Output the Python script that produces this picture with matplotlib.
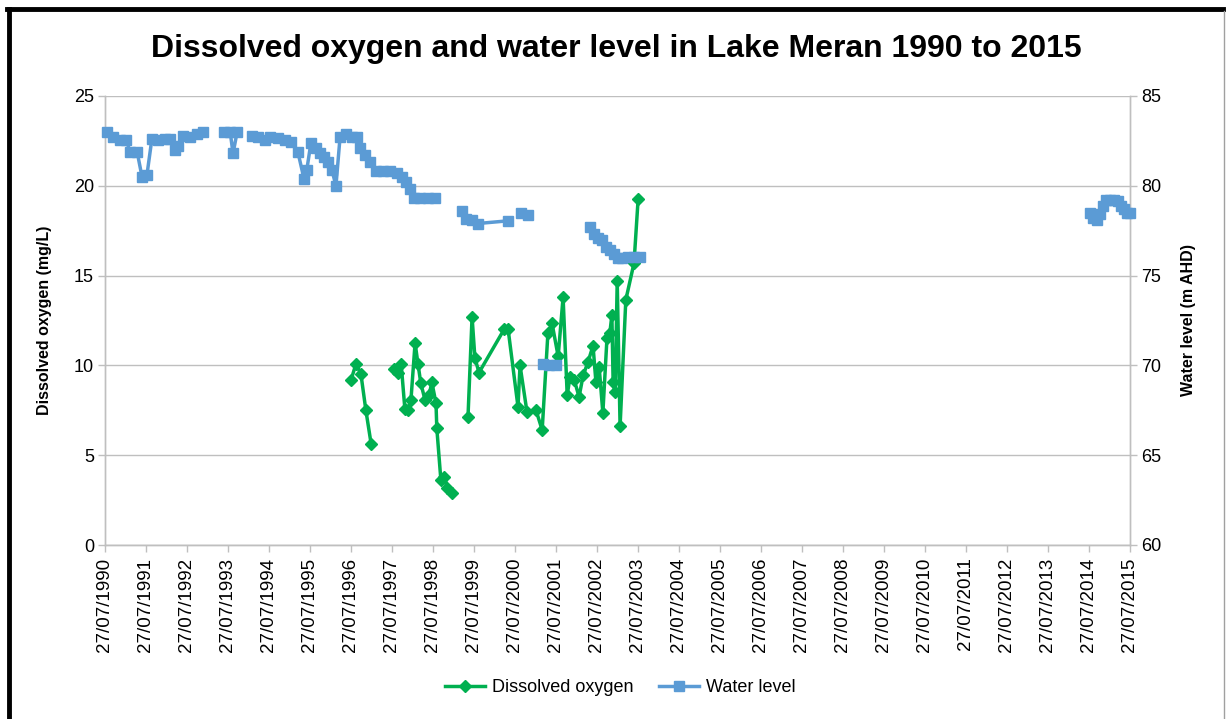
"""Dissolved oxygen and water level in Lake Meran, 1990-2015."""

import matplotlib
matplotlib.use("Agg")
import matplotlib.pyplot as plt
from matplotlib.lines import Line2D
import numpy as np

NAN = float("nan")

# decimal years; NaN entries break the line (missing records)
wl_years = [
    1990.62, 1990.76, 1990.93, 1991.08, 1991.18, 1991.35, 1991.47, 1991.59,
    1991.71, 1991.86, 1992.03, 1992.15, 1992.27, 1992.35, 1992.47, 1992.64,
    1992.81, 1992.96, NAN,
    1993.47, 1993.62, 1993.69, 1993.79, NAN,
    1994.15, 1994.30, 1994.47, 1994.59, 1994.79, 1994.96, 1995.10, 1995.27,
    1995.42, 1995.49, 1995.59, 1995.71, 1995.81, 1995.91, 1996.01, 1996.10,
    1996.20, 1996.30, 1996.45, 1996.59, 1996.71, 1996.79, 1996.91, 1997.03,
    1997.18, 1997.35, 1997.52, 1997.69, 1997.81, 1997.91, 1998.01, 1998.10,
    1998.25, 1998.45, 1998.62, NAN,
    1999.27, 1999.37, 1999.52, 1999.66, 2000.40, NAN,
    2000.71, 2000.88, NAN,
    2001.25, 2001.40, 2001.57, NAN,
    2002.40, 2002.49, 2002.59, 2002.69, 2002.79, 2002.88, 2002.98, 2003.08,
    2003.18, 2003.32, 2003.47, 2003.62, NAN,
    2014.59, 2014.66, 2014.76, 2014.83, 2014.91, 2014.98, 2015.08, 2015.18,
    2015.27, 2015.35, 2015.42, 2015.49, 2015.56,
]
wl_values = [
    83.0, 82.7, 82.55, 82.55, 81.9, 81.9, 80.5, 80.6,
    82.6, 82.55, 82.6, 82.6, 82.0, 82.2, 82.8, 82.7,
    82.9, 83.0, NAN,
    83.0, 83.0, 81.8, 83.0, NAN,
    82.8, 82.7, 82.55, 82.7, 82.65, 82.55, 82.45, 81.9,
    80.4, 80.9, 82.4, 82.1, 81.8, 81.6, 81.3, 80.9,
    80.0, 82.7, 82.9, 82.7, 82.7, 82.1, 81.7, 81.3,
    80.8, 80.85, 80.85, 80.7, 80.5, 80.2, 79.8, 79.3,
    79.3, 79.3, 79.3, NAN,
    78.6, 78.15, 78.1, 77.9, 78.05, NAN,
    78.5, 78.4, NAN,
    70.1, 70.0, 70.0, NAN,
    77.7, 77.3, 77.1, 77.0, 76.6, 76.4, 76.2, 76.0,
    76.0, 76.05, 76.05, 76.05, NAN,
    78.5, 78.2, 78.1, 78.45, 78.9, 79.2, 79.2, 79.2,
    79.15, 78.9, 78.7, 78.5, 78.5,
]

do_years = [
    1996.57, 1996.69, 1996.81, 1996.93, 1997.06, NAN,
    1997.62, 1997.71, 1997.79, 1997.88, 1997.96, 1998.03, 1998.13, 1998.20,
    1998.27, 1998.37, 1998.47, 1998.54, 1998.64, 1998.66, 1998.76, 1998.84,
    1998.91, 1999.03, NAN,
    1999.42, 1999.52, 1999.59, 1999.69, 2000.30, 2000.40, 2000.64, 2000.69,
    2000.86, 2001.08, 2001.23, 2001.37, 2001.47, 2001.62, 2001.74, 2001.84,
    2001.91, 2002.01, 2002.13, 2002.23, 2002.35, 2002.47, 2002.54, 2002.62,
    2002.71, 2002.81, 2002.88, 2002.93, 2002.96, 2003.01, 2003.06, 2003.13,
    2003.27, 2003.47, 2003.57,
]
do_values = [
    9.2, 10.1, 9.5, 7.5, 5.6, NAN,
    9.8, 9.6, 10.1, 7.6, 7.5, 8.1, 11.25, 10.1,
    9.0, 8.1, 8.35, 9.05, 7.9, 6.5, 3.6, 3.8,
    3.2, 2.9, NAN,
    7.1, 12.7, 10.4, 9.6, 12.0, 12.0, 7.7, 10.0,
    7.4, 7.5, 6.4, 11.8, 12.35, 10.5, 13.8, 8.35,
    9.35, 9.2, 8.25, 9.45, 10.2, 11.1, 9.1, 9.9,
    7.35, 11.5, 11.8, 12.8, 9.1, 8.5, 14.7, 6.6,
    13.65, 15.7, 19.25,
]

tick_years = list(range(1990, 2016))
TICK_OFFSET = 207 / 365  # 27 July as a fraction of the year

GREEN = "#00B050"
BLUE = "#5B9BD5"
GRID = "#BFBFBF"

plt.rcParams["font.family"] = ["Liberation Sans", "DejaVu Sans"]

fig = plt.figure(figsize=(12.26, 7.19), dpi=100)
ax = fig.add_axes([105 / 1226, 1 - 545 / 719, 1025 / 1226, 449 / 719])
ax2 = ax.twinx()

ax.plot(do_years, do_values, color=GREEN, lw=2.5, marker="D", ms=6.5,
        label="Dissolved oxygen", zorder=3)
ax2.plot(wl_years, wl_values, color=BLUE, lw=2.5, marker="s", ms=7.5,
         label="Water level", zorder=3, clip_on=False)

x_ticks = [y + TICK_OFFSET for y in tick_years]
ax.set_xlim(x_ticks[0], x_ticks[-1])
ax.set_xticks(x_ticks)
ax.set_xticklabels([f"27/07/{y}" for y in tick_years], rotation=90,
                   fontsize=13.5, color="black")

ax.set_ylim(0, 25)
ax.set_yticks(np.arange(0, 26, 5))
ax2.set_ylim(60, 85)
ax2.set_yticks(np.arange(60, 86, 5))
ax.tick_params(axis="y", labelsize=13, colors=GRID, labelcolor="black",
               length=5, width=1, pad=3)
ax2.tick_params(axis="y", labelsize=13, colors=GRID, labelcolor="black",
                length=5, width=1, pad=3)
ax.tick_params(axis="x", colors=GRID, labelcolor="black", length=5, width=1,
               pad=4)

ax.grid(axis="y", color=GRID, lw=1)
ax.set_axisbelow(True)
for a in (ax, ax2):
    a.spines["top"].set_visible(False)
    for s in ("left", "right", "bottom"):
        a.spines[s].set_color(GRID)
        a.spines[s].set_linewidth(1)

ax.set_ylabel("Dissolved oxygen (mg/L)", fontsize=11.5, fontweight="bold",
              labelpad=16)
ax2.set_ylabel("Water level (m AHD)", fontsize=11.5, fontweight="bold",
               labelpad=14)

fig.text(0.503, 1 - 49 / 719,
         "Dissolved oxygen and water level in Lake Meran 1990 to 2015",
         ha="center", va="center", fontsize=23, fontweight="bold")

handles = [
    Line2D([], [], color=GREEN, lw=2.5, marker="D", ms=6.5),
    Line2D([], [], color=BLUE, lw=2.5, marker="s", ms=7.5),
]
fig.legend(handles, ["Dissolved oxygen", "Water level"], loc="center",
           bbox_to_anchor=(0.506, 1 - 688 / 719), ncol=2, frameon=False,
           fontsize=13, handlelength=2.2, handletextpad=0.4,
           columnspacing=1.4)

# outer chart frame
fig.add_artist(Line2D([8.5 / 1226, 8.5 / 1226], [0, 1 - 9 / 719],
                      transform=fig.transFigure, color="black", lw=3.5))
fig.add_artist(Line2D([7 / 1226, 1223 / 1226], [1 - 9 / 719, 1 - 9 / 719],
                      transform=fig.transFigure, color="black", lw=3.5))
fig.add_artist(Line2D([1223.5 / 1226, 1223.5 / 1226], [0, 1 - 11 / 719],
                      transform=fig.transFigure, color="#A0A0A0", lw=1))

fig.savefig("out.png", dpi=100)
